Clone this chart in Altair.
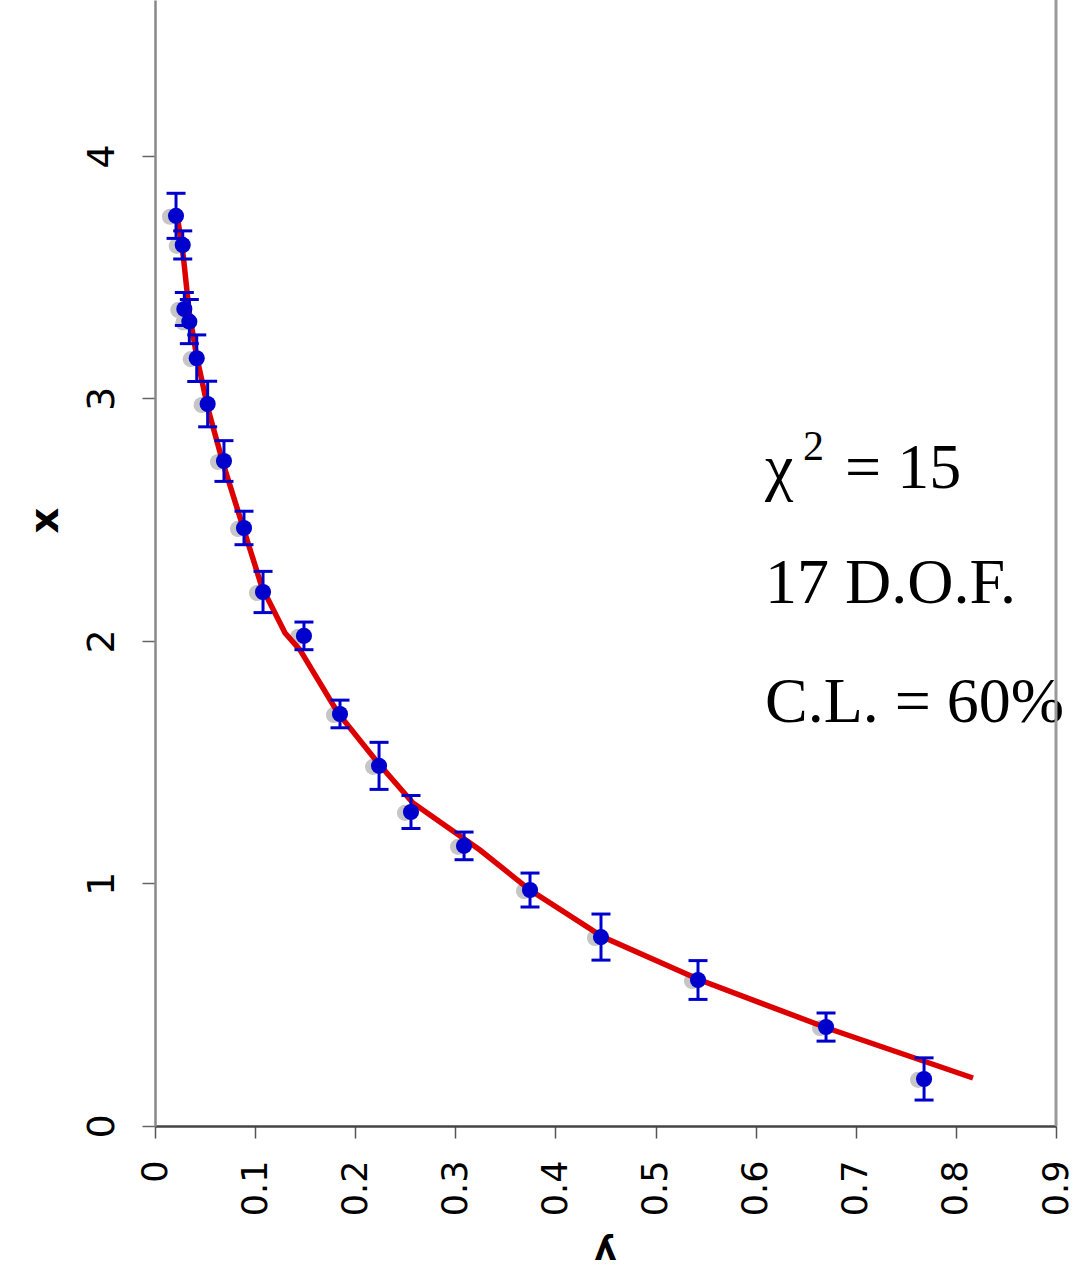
import altair as alt
import pandas as pd

# ---- data (horizontal axis "y", vertical axis "x") ----
h_blue = [0.0210, 0.0277, 0.0293, 0.0343, 0.0417, 0.0526, 0.0689, 0.0889, 0.1079, 0.1488,
          0.1848, 0.2238, 0.2557, 0.3087, 0.3746, 0.4455, 0.5424, 0.6703, 0.7682]
v_blue = [3.753, 3.633, 3.369, 3.317, 3.166, 2.977, 2.742, 2.466, 2.202, 2.021,
          1.699, 1.485, 1.295, 1.155, 0.973, 0.779, 0.602, 0.408, 0.194]
v_err = [0.093, 0.058, 0.068, 0.091, 0.096, 0.094, 0.084, 0.069, 0.085, 0.057,
         0.057, 0.097, 0.068, 0.057, 0.070, 0.095, 0.080, 0.058, 0.087]

h_gray = [0.0150, 0.0217, 0.0233, 0.0283, 0.0357, 0.0466, 0.0629, 0.0829, 0.1019, 0.1428,
          0.1788, 0.2178, 0.2497, 0.3027, 0.3686, 0.4395, 0.5364, 0.6643, 0.7622]
v_gray = [3.749, 3.629, 3.365, 3.313, 3.162, 2.973, 2.738, 2.462, 2.198, 2.017,
          1.695, 1.481, 1.291, 1.151, 0.969, 0.775, 0.598, 0.404, 0.190]

h_fit = [0.0227, 0.0283, 0.0343, 0.0417, 0.0532, 0.0679, 0.0879, 0.1066, 0.1299, 0.1448,
         0.1828, 0.2228, 0.2577, 0.3246, 0.3746, 0.4475, 0.5444, 0.6713, 0.8171]
v_fit = [3.740, 3.585, 3.351, 3.172, 2.953, 2.734, 2.470, 2.224, 2.033, 1.963,
         1.703, 1.497, 1.332, 1.138, 0.973, 0.779, 0.602, 0.404, 0.198]

x_ticks = [0, 0.1, 0.2, 0.3, 0.4, 0.5, 0.6, 0.7, 0.8, 0.9]
y_ticks = [0, 1, 2, 3, 4]

ann_text = ["17 D.O.F.", "C.L. = 60%"]
ann_h = [0.6093, 0.6093]
ann_v = [2.157, 1.666]
chi_text = ["\u03c7", "= 15"]
chi_h = [0.6093, 0.6893]
chi_v = [2.631, 2.631]
sup_text = ["2"]
sup_h = [0.6473]
sup_v = [2.746]
border_h = [0.9]

# ---- tables ----
pts = pd.DataFrame({"h": h_blue, "v": v_blue,
                    "lo": [a - b for a, b in zip(v_blue, v_err)],
                    "hi": [a + b for a, b in zip(v_blue, v_err)]})
gray = pd.DataFrame({"h": h_gray, "v": v_gray})
fit = pd.DataFrame({"h": h_fit, "v": v_fit, "i": list(range(len(h_fit)))})
ann = pd.DataFrame({"h": ann_h, "v": ann_v, "t": ann_text})
chi = pd.DataFrame({"h": chi_h, "v": chi_v, "t": chi_text})
sup = pd.DataFrame({"h": sup_h, "v": sup_v, "t": sup_text})
border = pd.DataFrame({"h": border_h})

xscale = alt.Scale(domain=[0, 0.9], nice=False, zero=False)
yscale = alt.Scale(domain=[0, 4.643], nice=False, zero=False)

xaxis = alt.Axis(values=x_ticks, format=".1~f", title="y", grid=False,
                 labelAngle=270, labelAlign="right", labelBaseline="middle",
                 labelFont="DejaVu Sans", labelFontSize=35, labelColor="black",
                 labelPadding=22, labelFlush=False, labelOverlap=False,
                 tickSize=12, tickColor="#555555", tickWidth=1.5,
                 domainColor="#444444", domainWidth=2.5,
                 titleAngle=180, titleFont="DejaVu Sans", titleFontWeight="bold",
                 titleFontSize=34, titleColor="black", titleBaseline="middle",
                 titleAlign="center", titleX=450, titleY=124)
yaxis = alt.Axis(values=y_ticks, format="d", title="x", grid=False,
                 labelAngle=270, labelAlign="center", labelBaseline="bottom",
                 labelFont="DejaVu Sans", labelFontSize=38, labelColor="black",
                 labelPadding=21, labelFlush=False, labelOverlap=False,
                 tickSize=13, tickColor="#666666", tickWidth=1.5,
                 domainColor="#888888", domainWidth=2.5,
                 titleAngle=270, titleFont="DejaVu Sans", titleFontWeight="bold",
                 titleFontSize=40, titleColor="black", titleBaseline="middle",
                 titleAlign="center", titleX=-110, titleY=520)


def X(field="h"):
    return alt.X(f"{field}:Q", scale=xscale, axis=xaxis)


def Y(field="v"):
    return alt.Y(f"{field}:Q", scale=yscale, axis=yaxis)


gray_layer = alt.Chart(gray).mark_circle(size=260, color="#c6c6c6", opacity=1).encode(x=X(), y=Y())
fit_layer = alt.Chart(fit).mark_line(color="#dd0000", strokeWidth=5.5).encode(x=X(), y=Y(), order="i:Q")
err_layer = alt.Chart(pts).mark_rule(color="#0000cc", strokeWidth=3).encode(
    x=X(), y=Y("lo"), y2="hi:Q")
cap_lo = alt.Chart(pts).mark_tick(orient="horizontal", color="#0000cc", thickness=3, size=19,
                                  opacity=1).encode(x=X(), y=Y("lo"))
cap_hi = alt.Chart(pts).mark_tick(orient="horizontal", color="#0000cc", thickness=3, size=19,
                                  opacity=1).encode(x=X(), y=Y("hi"))
blue_layer = alt.Chart(pts).mark_circle(size=260, color="#0000cc", opacity=1).encode(x=X(), y=Y())

ann_layer = alt.Chart(ann).mark_text(font="Liberation Serif", fontSize=64, align="left",
                                     baseline="alphabetic", color="black").encode(
    x=X(), y=Y(), text="t:N")
chi_layer = alt.Chart(chi).mark_text(font="Liberation Serif", fontSize=64, align="left",
                                     baseline="alphabetic", color="black").encode(
    x=X(), y=Y(), text="t:N")
sup_layer = alt.Chart(sup).mark_text(font="Liberation Serif", fontSize=42, align="left",
                                     baseline="alphabetic", color="black").encode(
    x=X(), y=Y(), text="t:N")
border_layer = alt.Chart(border).mark_rule(color="#999999", strokeWidth=3).encode(x=X())

chart = alt.layer(
    gray_layer, fit_layer, err_layer, cap_lo, cap_hi, blue_layer,
    ann_layer, chi_layer, sup_layer, border_layer
).properties(
    width=901, height=1126,
    autosize=alt.AutoSizeParams(type="none"),
    padding={"left": 155, "top": 0, "right": 30, "bottom": 148},
    background="white"
).configure_view(stroke=None)

chart.save("out.html", embed_options={"renderer": "svg", "actions": False})
